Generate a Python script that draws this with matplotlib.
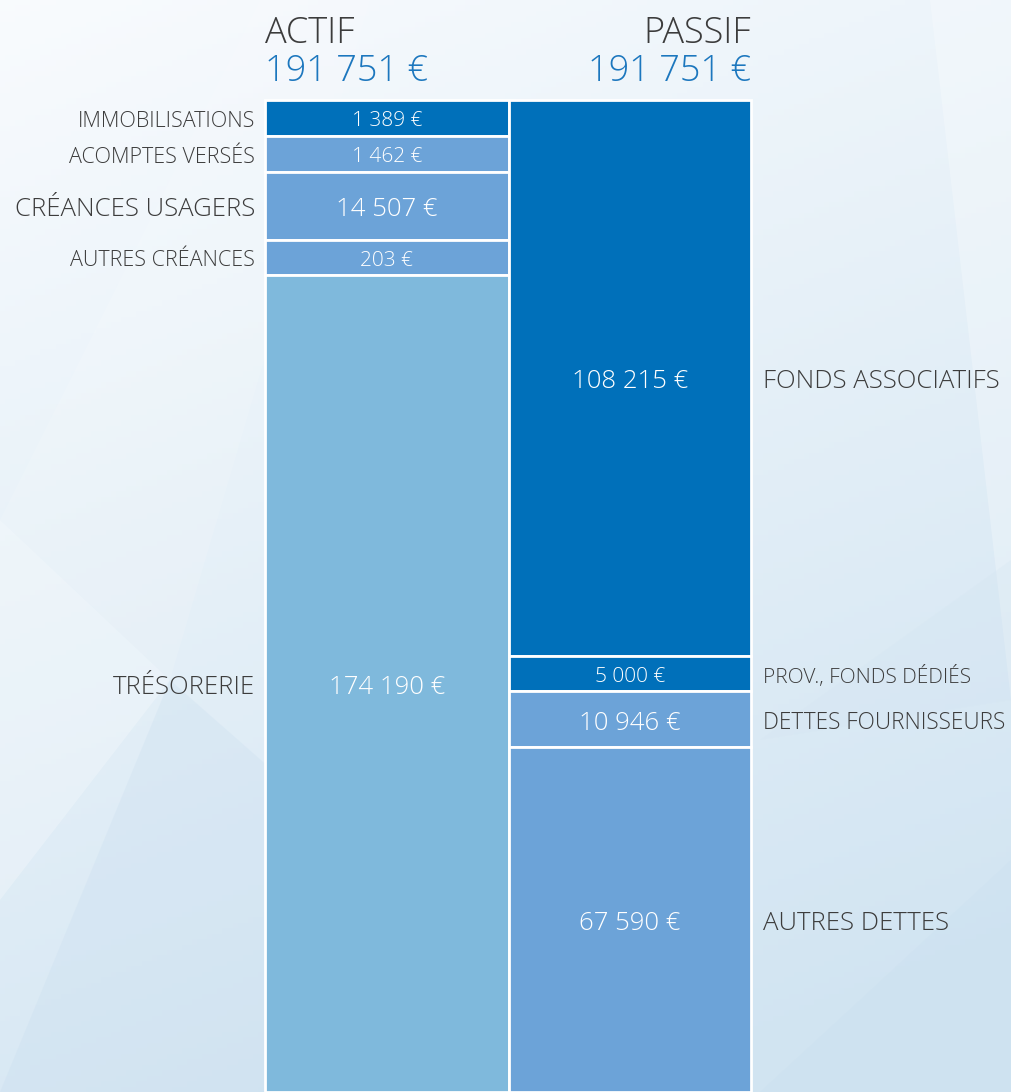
import numpy as np
import matplotlib
matplotlib.use("Agg")
import matplotlib.pyplot as plt
from matplotlib.patches import Polygon

# ---------------- data ----------------
actif_labels = ["IMMOBILISATIONS", "ACOMPTES VERSÉS", "CRÉANCES USAGERS", "AUTRES CRÉANCES", "TRÉSORERIE"]
actif_values = [1389, 1462, 14507, 203, 174190]
# segment heights as drawn in the picture (not proportional: small items are enlarged)
actif_heights = [36, 36, 68, 35, 817]

passif_labels = ["FONDS ASSOCIATIFS", "PROV., FONDS DÉDIÉS", "DETTES FOURNISSEURS", "AUTRES DETTES"]
passif_values = [108215, 5000, 10946, 67590]
passif_heights = [556, 35, 56, 345]

actif_total = 191751
passif_total = 191751

DARK = "#0070BA"
MED = "#6CA3D8"
LIGHT = "#7FB9DC"
actif_colors = [DARK, MED, MED, MED, LIGHT]
passif_colors = [DARK, DARK, MED, MED]
actif_label_fs = [15.5, 15.5, 18.5, 15.5, 18.5]
actif_value_fs = [15, 15, 18.5, 15, 18.5]
passif_label_fs = [18.5, 15, 16.3, 18.5]
passif_value_fs = [18.5, 15, 18.5, 18.5]

TXT = "#3c3c3c"
BLUE_T = "#1C77BE"
FONT = "Open Sans"
WT = 300


def fmt(v):
    return f"{v:,}".replace(",", " ") + " €"


W, H = 1011, 1092
fig = plt.figure(figsize=(W / 100, H / 100), dpi=100)
ax = fig.add_axes([0, 0, 1, 1])
ax.set_xlim(0, W)
ax.set_ylim(H, 0)
ax.axis("off")

# background gradient
yy, xx = np.mgrid[0:1:200j, 0:1:200j]
t = np.clip(0.3 * xx + 0.8 * yy, 0, 1)
c0 = np.array([0.975, 0.985, 0.995])
c1 = np.array([0.82, 0.895, 0.948])
img = c0[None, None, :] * (1 - t[..., None]) + c1[None, None, :] * t[..., None]
ax.imshow(img, extent=[0, W, H, 0], aspect="auto", zorder=0)

# faint facets
facets = [
    ([(0, 520), (170, 680), (0, 900)], "white", 0.25),
    ([(170, 680), (370, 0), (260, 0), (0, 520)], "white", 0.12),
    ([(0, 1092), (170, 680), (420, 900), (420, 1092)], "#c5dbee", 0.25),
    ([(760, 1092), (1011, 1092), (1011, 860), (860, 1000)], "#c5dbee", 0.2),
    ([(1011, 0), (930, 0), (1011, 700)], "white", 0.25),
    ([(760, 740), (1011, 700), (1011, 560)], "#d3e4f1", 0.25),
]
for pts, col, a in facets:
    ax.add_patch(Polygon(pts, closed=True, facecolor=col, edgecolor="none", alpha=a, zorder=1))

top = 100
lx0, lx1 = 265, 509
rx0, rx1 = 509, 751

# ACTIF column
bottoms = top + np.concatenate([[0], np.cumsum(actif_heights)[:-1]])
ax.bar([(lx0 + lx1) / 2] * len(actif_heights), actif_heights, width=lx1 - lx0, bottom=bottoms,
       color=actif_colors, edgecolor="white", linewidth=2, zorder=3)
for lab, v, b, h, fl, fv in zip(actif_labels, actif_values, bottoms, actif_heights,
                                actif_label_fs, actif_value_fs):
    yc = b + h / 2 + 1
    ax.text(lx0 - 10, yc, lab, ha="right", va="center_baseline", fontsize=fl, color=TXT,
            family=FONT, fontweight=WT, zorder=4)
    ax.text((lx0 + lx1) / 2, yc, fmt(v), ha="center", va="center_baseline", fontsize=fv,
            color="white", family=FONT, fontweight=WT, zorder=4)

# PASSIF column
bottoms = top + np.concatenate([[0], np.cumsum(passif_heights)[:-1]])
ax.bar([(rx0 + rx1) / 2] * len(passif_heights), passif_heights, width=rx1 - rx0, bottom=bottoms,
       color=passif_colors, edgecolor="white", linewidth=2, zorder=3)
for lab, v, b, h, fl, fv in zip(passif_labels, passif_values, bottoms, passif_heights,
                                passif_label_fs, passif_value_fs):
    yc = b + h / 2 + 1
    ax.text(rx1 + 12, yc, lab, ha="left", va="center_baseline", fontsize=fl, color=TXT,
            family=FONT, fontweight=WT, zorder=4)
    ax.text((rx0 + rx1) / 2, yc, fmt(v), ha="center", va="center_baseline", fontsize=fv,
            color="white", family=FONT, fontweight=WT, zorder=4)

# headers
ax.text(lx0, 29, "ACTIF", ha="left", va="center_baseline", fontsize=26, color=TXT,
        family=FONT, fontweight=WT, zorder=4)
ax.text(lx0, 67, fmt(actif_total), ha="left", va="center_baseline", fontsize=26, color=BLUE_T,
        family=FONT, fontweight=WT, zorder=4)
ax.text(rx1, 29, "PASSIF", ha="right", va="center_baseline", fontsize=26, color=TXT,
        family=FONT, fontweight=WT, zorder=4)
ax.text(rx1, 67, fmt(passif_total), ha="right", va="center_baseline", fontsize=26, color=BLUE_T,
        family=FONT, fontweight=WT, zorder=4)

fig.savefig("out.png", dpi=100)
